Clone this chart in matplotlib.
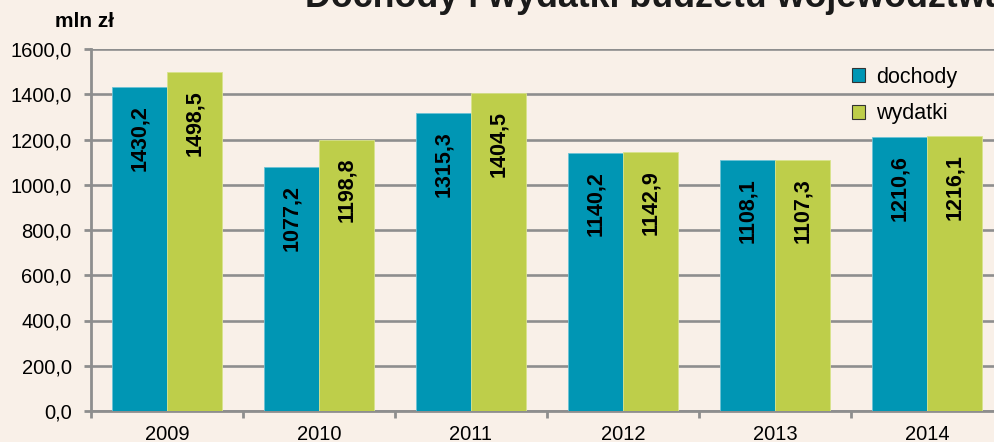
import matplotlib
matplotlib.use("Agg")
import matplotlib.pyplot as plt
import numpy as np

years = ["2009", "2010", "2011", "2012", "2013", "2014"]
dochody = [1430.2, 1077.2, 1315.3, 1140.2, 1108.1, 1210.6]
wydatki = [1498.5, 1198.8, 1404.5, 1142.9, 1107.3, 1216.1]
series_names = ["dochody", "wydatki"]
yticks = [0, 200, 400, 600, 800, 1000, 1200, 1400, 1600]
title = "Dochody i wydatki budżetu województwa"
unit = "mln zł"

plt.rcParams['font.family'] = ['Liberation Sans', 'DejaVu Sans']

bg = '#F9F0E8'
teal = '#0096B4'
green = '#BECE4A'
grey = '#8E8E8E'

fig = plt.figure(figsize=(9.95, 4.42), dpi=100, facecolor=bg)
ax = fig.add_axes([91/995, 31/442, 912/995, 362/442])
ax.set_facecolor(bg)

x = np.arange(len(years))
w = 0.36
b1 = ax.bar(x - w/2, dochody, w, color=teal, edgecolor='#6CC3D6', linewidth=0.6,
            label=series_names[0], zorder=3)
b2 = ax.bar(x + w/2, wydatki, w, color=green, edgecolor='#D8E38C', linewidth=0.6,
            label=series_names[1], zorder=3)

for bars, vals in ((b1, dochody), (b2, wydatki)):
    for rect, v in zip(bars, vals):
        ax.annotate(f"{v:.1f}".replace('.', ','),
                    xy=(rect.get_x() + rect.get_width()/2, v),
                    xytext=(0, -13), textcoords='offset points',
                    rotation=90, ha='center', va='top',
                    fontsize=15.5, fontweight='bold', color='black', zorder=4)

ax.set_xlim(-0.5, len(years) - 0.5)
ax.set_ylim(0, 1600)
ax.set_yticks(yticks)
ax.set_yticklabels([f"{t:.1f}".replace('.', ',') for t in yticks], fontsize=14.5)
ax.set_xticks(x)
ax.set_xticklabels(years, fontsize=14.5)
ax.set_xticks(np.arange(-0.5, len(years)), minor=True)
ax.tick_params(axis='x', which='major', length=0, pad=10)
ax.tick_params(axis='x', which='minor', length=5, width=2, color=grey, direction='out')
ax.tick_params(axis='y', which='major', length=5, width=2, color=grey, pad=9)

ax.yaxis.grid(True, color=grey, linewidth=1.9, zorder=0)
ax.set_axisbelow(True)
for s in ['top', 'right']:
    ax.spines[s].set_visible(False)
for s in ['left', 'bottom']:
    ax.spines[s].set_color(grey)
    ax.spines[s].set_linewidth(2)

fig.text(55/995, 1 - 27/442, unit, fontsize=15, fontweight='bold', ha='left', va='baseline')
fig.text(305/995, 1 - 7/442, title, fontsize=25.8, fontweight='bold', ha='left', va='baseline',
         color='#1a1a1a')

leg = ax.legend(loc='upper left', bbox_to_anchor=(852/995, 1 - 67/442),
                bbox_transform=fig.transFigure, frameon=False, fontsize=15.5,
                handlelength=0.62, handleheight=0.62, handletextpad=0.48,
                labelspacing=0.72, borderpad=0, borderaxespad=0)
for h in leg.legend_handles:
    h.set_edgecolor('#333333')
    h.set_linewidth(0.8)

fig.savefig('out.png', dpi=100, facecolor=bg)
